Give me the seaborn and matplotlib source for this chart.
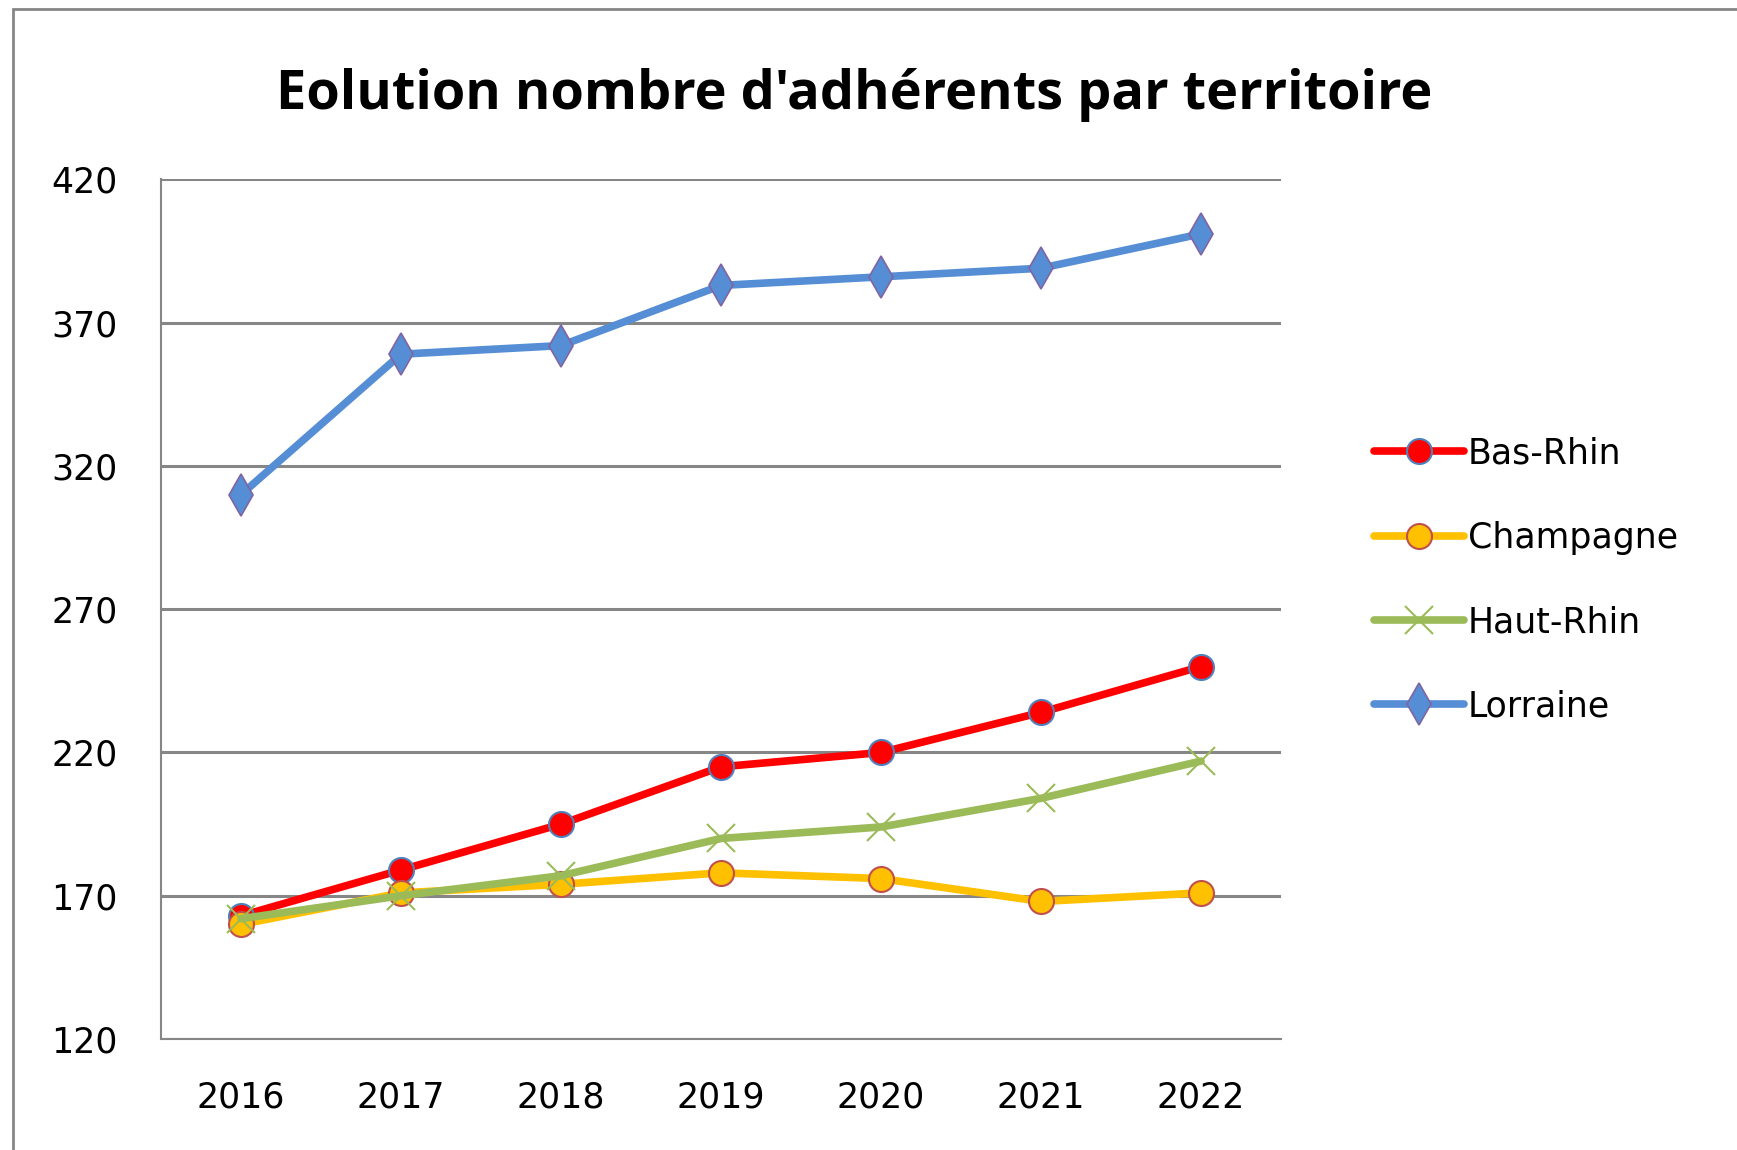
import matplotlib
matplotlib.use('Agg')
import matplotlib.pyplot as plt
import seaborn as sns
import pandas as pd
from matplotlib.patches import Rectangle

# ── Data ──────────────────────────────────────────────────────────────────────
YEARS      = ['2016', '2017', '2018', '2019', '2020', '2021', '2022']
BAS_RHIN   = [163, 179, 195, 215, 220, 234, 250]
CHAMPAGNE  = [160, 171, 174, 178, 176, 168, 171]
HAUT_RHIN  = [162, 170, 177, 190, 194, 204, 217]
LORRAINE   = [310, 359, 362, 383, 386, 389, 401]
Y_TICKS    = [120, 170, 220, 270, 320, 370, 420]
TITLE      = "Eolution nombre d'adhérents par territoire"

# ── Style per series ──────────────────────────────────────────────────────────
SERIES = [
    ('Bas-Rhin',  BAS_RHIN,  dict(color='#FF0000', marker='o', ms=18, mfc='#FF0000', mec='#4F81BD', mew=1.5)),
    ('Champagne', CHAMPAGNE, dict(color='#FFC000', marker='o', ms=18, mfc='#FFC000', mec='#C0504D', mew=1.5)),
    ('Haut-Rhin', HAUT_RHIN, dict(color='#9BBB59', marker='x', ms=20, mfc='#9BBB59', mec='#9BBB59', mew=1.5)),
    ('Lorraine',  LORRAINE,  dict(color='#558ED5', marker='d', ms=21, mfc='#558ED5', mec='#8064A2', mew=1.2)),
]

sns.set_style('white')
plt.rcParams['font.family'] = ['DejaVu Sans']
plt.rcParams['text.color'] = 'black'
plt.rcParams['xtick.color'] = 'black'
plt.rcParams['ytick.color'] = 'black'

fig = plt.figure(figsize=(17.37, 11.5), dpi=100)
ax = fig.add_axes([0.0927, 0.0965, 0.6448, 0.7475])

pos = list(range(len(YEARS)))
for name, vals, st in SERIES:
    df = pd.DataFrame({'x': pos, 'y': vals})
    sns.lineplot(data=df, x='x', y='y', ax=ax, color=st['color'], linewidth=5.5,
                 marker=st['marker'], markersize=st['ms'], markerfacecolor=st['mfc'],
                 markeredgecolor=st['mec'], markeredgewidth=st['mew'], label=name,
                 solid_capstyle='round')

ax.set_xlim(-0.5, len(YEARS) - 0.5)
ax.set_ylim(Y_TICKS[0], Y_TICKS[-1])
ax.set_yticks(Y_TICKS)
ax.set_yticklabels([str(v) for v in Y_TICKS], fontsize=25)
ax.set_xticks(pos)
ax.set_xticklabels(YEARS, fontsize=25)
ax.set_xticks([p - 0.5 for p in pos] + [len(YEARS) - 0.5], minor=True)
ax.tick_params(axis='x', which='major', length=0, pad=30, colors='black')
ax.tick_params(axis='x', which='minor', length=10, width=1.5, color='#868686', direction='out')
ax.tick_params(axis='y', which='major', length=6, width=1.5, color='#868686', direction='out',
               pad=25, labelcolor='black')
ax.set_xlabel(''); ax.set_ylabel('')

ax.yaxis.grid(True, color='#868686', linewidth=2.2)
ax.set_axisbelow(True)
for s in ['top', 'right']:
    ax.spines[s].set_visible(False)
for s in ['left', 'bottom']:
    ax.spines[s].set_color('#868686'); ax.spines[s].set_linewidth(1.5)

leg = ax.legend(loc='center left', bbox_to_anchor=(1.083, 0.534), frameon=False, fontsize=25,
                handlelength=2.6, handletextpad=0.1, labelspacing=1.45, borderaxespad=0,
                borderpad=0)
for t in leg.get_texts():
    t.set_color('black')

fig.text(0.492, 0.917, TITLE, ha='center', va='center', fontsize=39, fontweight='bold',
         color='black', family=['Open Sans', 'DejaVu Sans'])

fig.patches.append(Rectangle((13 / 1737, -0.01), 1.1, 1 - 9 / 1150 + 0.01,
                             transform=fig.transFigure, fill=False,
                             edgecolor='#868686', linewidth=2))

fig.savefig('out.png', dpi=100)
